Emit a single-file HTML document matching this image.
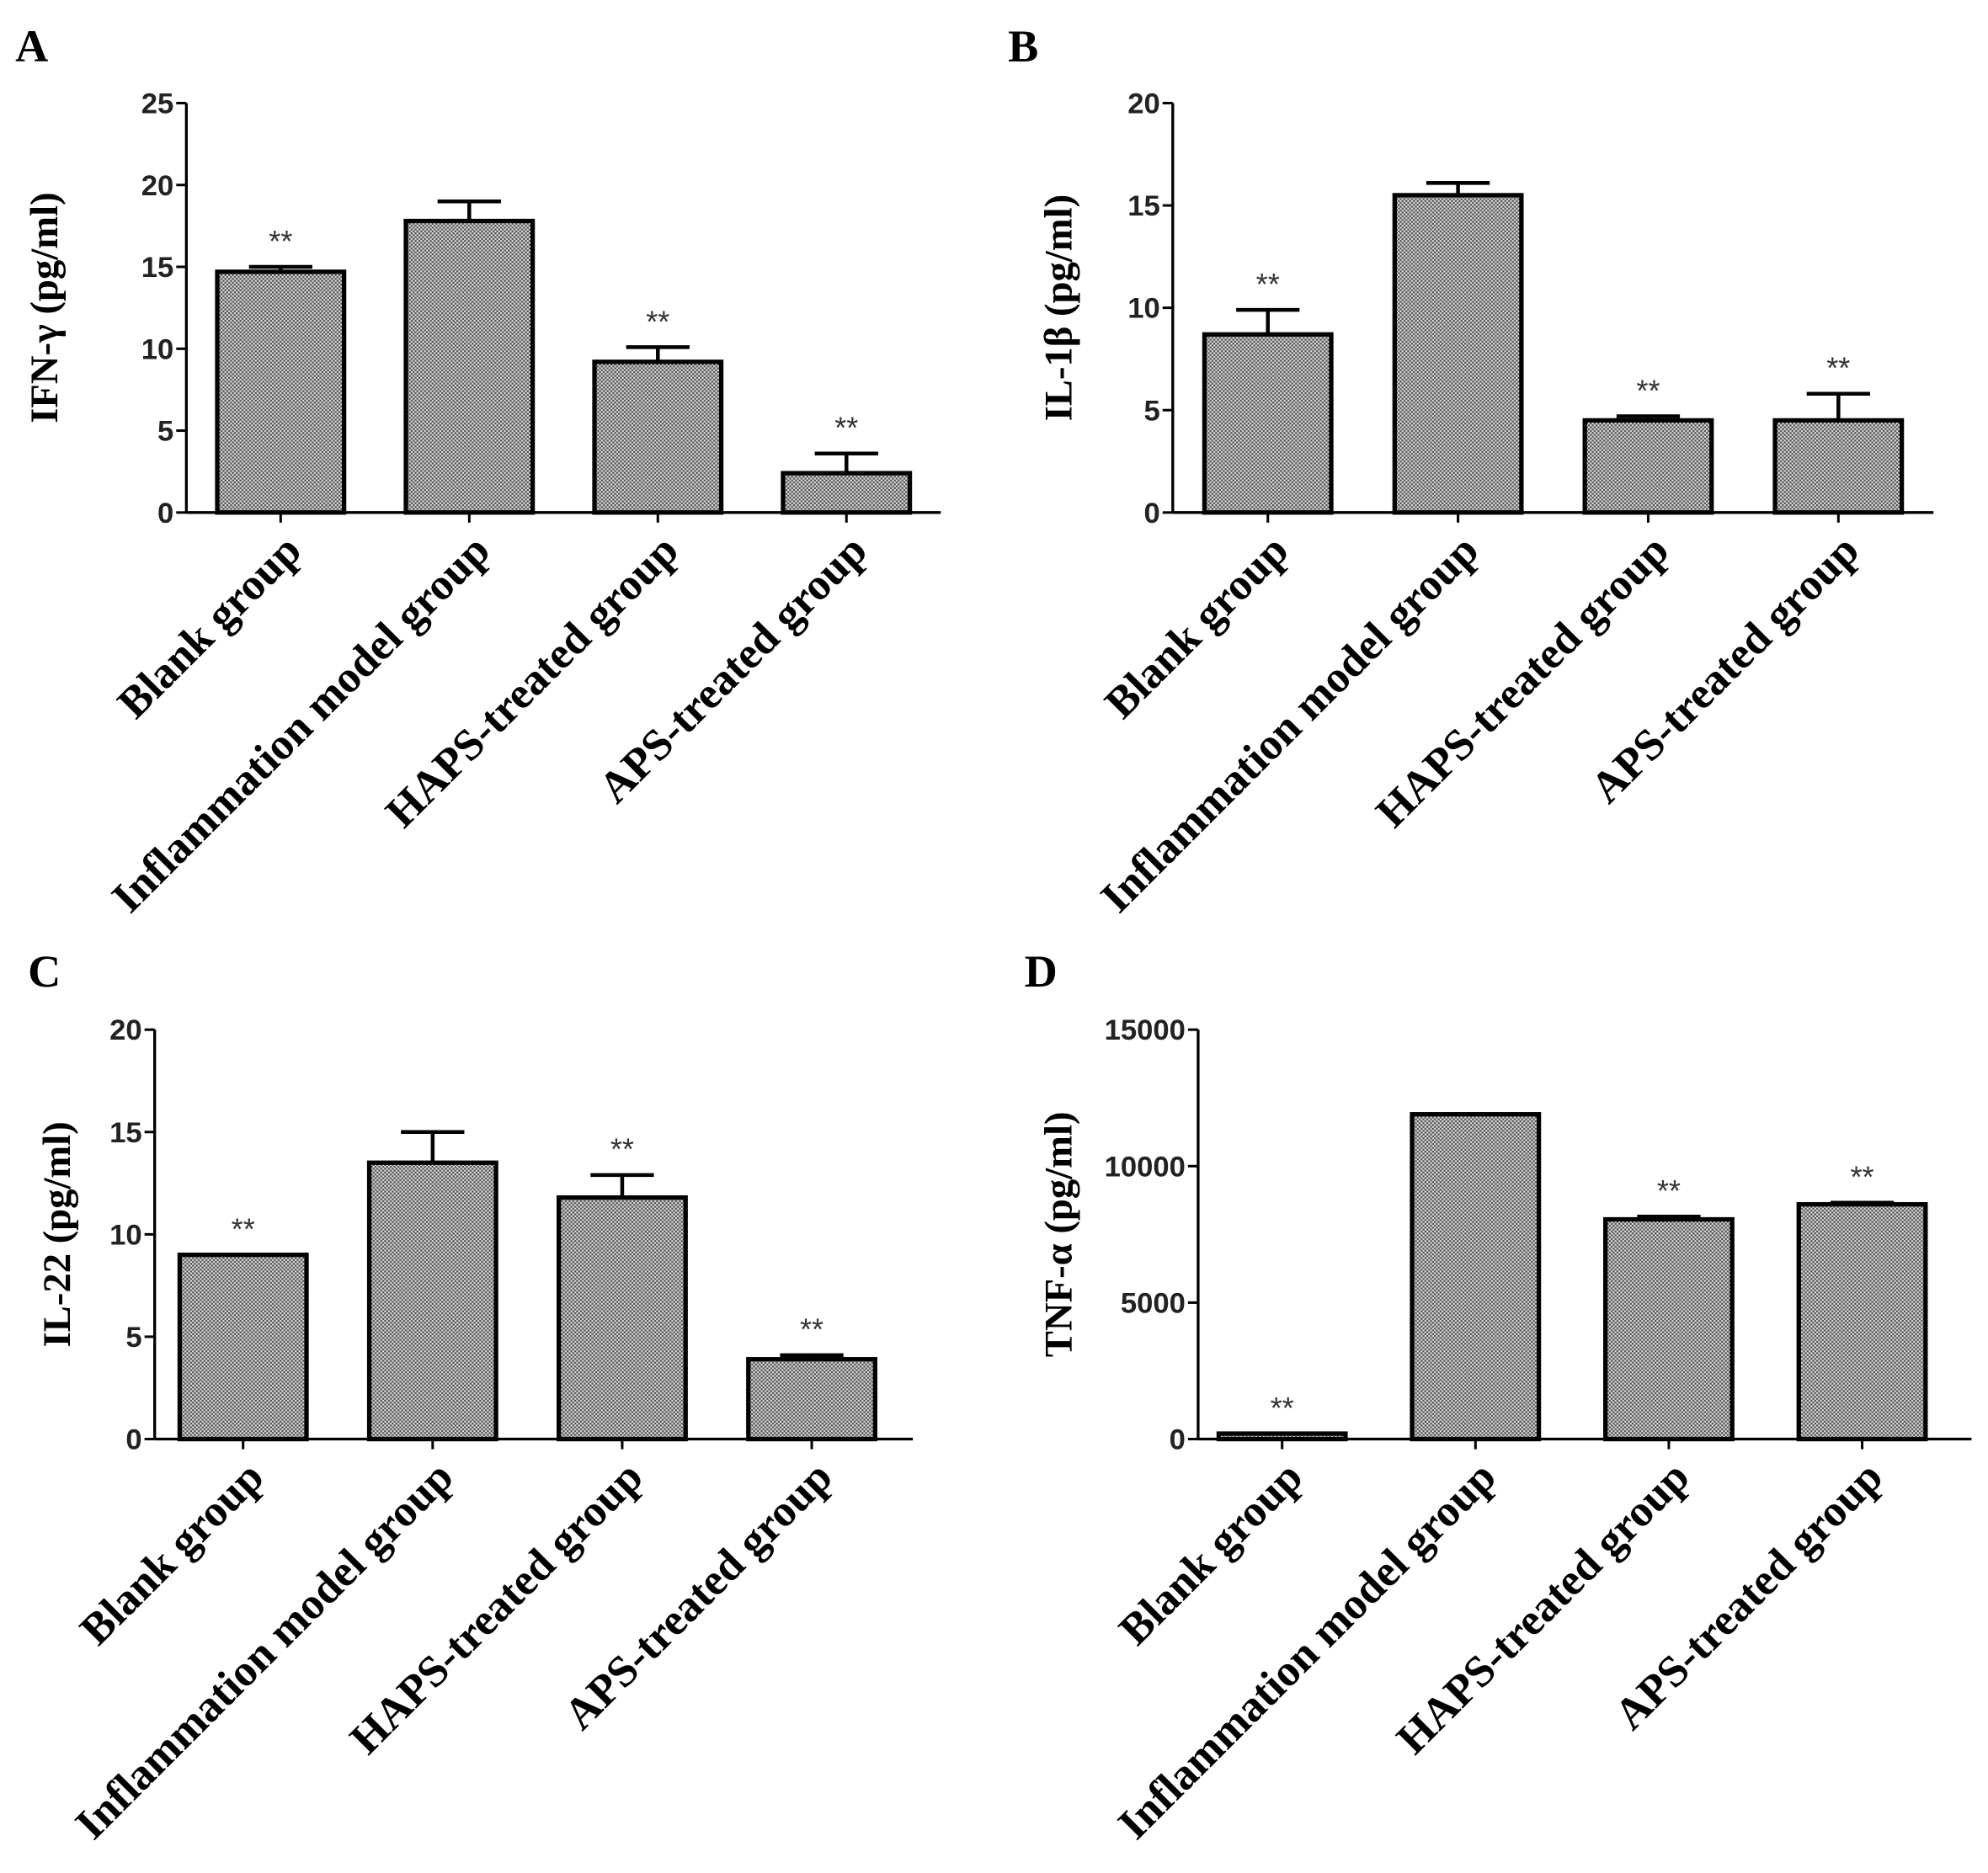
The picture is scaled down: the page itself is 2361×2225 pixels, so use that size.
<!DOCTYPE html>
<html><head><meta charset="utf-8"><style>
html,body{margin:0;padding:0;background:#fff}
svg{display:block}
</style></head><body>
<svg id="fig" xmlns="http://www.w3.org/2000/svg" width="2361" height="2225" viewBox="0 0 1568 1477">
<defs>
<pattern id="chk" width="3" height="3" patternUnits="userSpaceOnUse">
<rect width="3" height="3" fill="#d8d8d8"/>
<rect width="1.5" height="1.5" fill="#555"/>
<rect x="1.5" y="1.5" width="1.5" height="1.5" fill="#555"/>
</pattern>
</defs>
</svg>
<script>
const categories = ["Blank group","Inflammation model group","HAPS-treated group","APS-treated group"];
const valuesA = [14.7, 17.8, 9.2, 2.4];
const errA = [0.3, 1.2, 0.9, 1.2];
const sigA = [true, false, true, true];
const ticksA = [0,5,10,15,20,25];
const valuesB = [8.7, 15.5, 4.5, 4.5];
const errB = [1.2, 0.6, 0.2, 1.3];
const sigB = [true, false, true, true];
const ticksB = [0,5,10,15,20];
const valuesC = [9.0, 13.5, 11.8, 3.9];
const errC = [0, 1.5, 1.1, 0.2];
const sigC = [true, false, true, true];
const ticksC = [0,5,10,15,20];
const valuesD = [200, 11900, 8050, 8600];
const errD = [0, 0, 100, 60];
const sigD = [true, false, true, true];
const ticksD = [0,5000,10000,15000];

const NS = "http://www.w3.org/2000/svg";
const svg = document.getElementById('fig');
function mk(tag, attrs, parent, text){
  const e = document.createElementNS(NS, tag);
  for (const k in attrs) e.setAttribute(k, attrs[k]);
  if (text !== undefined) e.textContent = text;
  (parent||svg).appendChild(e);
  return e;
}
function panel(cfg){
  const g = mk('g', {});
  
  
  const L = mk('text', {x: cfg.lx, y: cfg.ly, 'font-family': 'Liberation Serif, serif', 'font-weight': 'bold', 'font-size': 36, fill: '#000'}, g, cfg.letter);
  
  
  const max = cfg.ticks[cfg.ticks.length-1];
  const y = v => cfg.y0 - (v/max)*(cfg.y0 - cfg.yTop);
  const ax = mk('line', {x1: cfg.ax, y1: cfg.yTop, x2: cfg.ax, y2: cfg.y0, stroke: '#000', 'stroke-width': 2.2}, g);
  
  
  const xa = mk('line', {x1: cfg.ax, y1: cfg.y0, x2: cfg.xEnd, y2: cfg.y0, stroke: '#000', 'stroke-width': 2.2}, g);
  
  
  cfg.ticks.forEach(t => {
    mk('line', {x1: cfg.ax - 8, y1: y(t), x2: cfg.ax, y2: y(t), stroke: '#000', 'stroke-width': 2}, g);
    const tl = mk('text', {x: cfg.ax - 10, y: y(t) + 8, 'text-anchor': 'end', 'font-family': 'Liberation Sans, sans-serif', 'font-weight': 'bold', 'font-size': 23, fill: '#222'}, g, t);
    
    
  });
  const yt = mk('text', {x: 0, y: 0, transform: `translate(${cfg.ytx},${(cfg.yTop+cfg.y0)/2}) rotate(-90)`, 'text-anchor': 'middle', 'font-family': 'Liberation Serif, serif', 'font-weight': 'bold', 'font-size': 31, fill: '#000'}, g, cfg.title);
  
  
  const step = (cfg.xEnd - cfg.ax) / 4;
  const bw = 100;
  cfg.vals.forEach((v, i) => {
    const cx = cfg.ax + step * (i + 0.5) + cfg.shift;
    mk('line', {x1: cx, y1: cfg.y0, x2: cx, y2: cfg.y0 + 8, stroke: '#000', 'stroke-width': 2}, g);
    if (cfg.err[i] > 0) {
      const e = mk('path', {d: `M${cx},${y(v)} V${y(v+cfg.err[i])} M${cx-25},${y(v+cfg.err[i])} H${cx+25}`, stroke: '#000', 'stroke-width': 3, fill: 'none'}, g);
      
      
    }
    const b = mk('rect', {x: cx - bw/2, y: y(v), width: bw, height: cfg.y0 - y(v), fill: 'url(#chk)', stroke: '#000', 'stroke-width': 3.5}, g);
    
    
    if (cfg.sig[i]) {
      const s = mk('text', {x: cx, y: y(v + cfg.err[i]) - 12, 'text-anchor': 'middle', 'font-family': 'Liberation Sans, sans-serif', 'font-size': 24, fill: '#333'}, g, '**');
      
      
    }
    const cl = mk('text', {x: 0, y: 0, transform: `translate(${cx + 18},${cfg.y0 + 32}) rotate(-45)`, 'text-anchor': 'end', 'font-family': 'Liberation Serif, serif', 'font-weight': 'bold', 'font-size': 35, fill: '#000'}, g, categories[i]);
    
    
  });
}
panel({letter:'A', lx:12, ly:48, ax:147, yTop:81, y0:404, xEnd:742, shift:0, ytx:45, title:'IFN-γ (pg/ml)', vals:valuesA, err:errA, sig:sigA, ticks:ticksA});
panel({letter:'B', lx:795, ly:48, ax:925, yTop:81, y0:404, xEnd:1525, shift:0, ytx:845, title:'IL-1β (pg/ml)', vals:valuesB, err:errB, sig:sigB, ticks:ticksB});
panel({letter:'C', lx:22, ly:778, ax:122, yTop:812, y0:1135, xEnd:720, shift:-5, ytx:55, title:'IL-22 (pg/ml)', vals:valuesC, err:errC, sig:sigC, ticks:ticksC});
panel({letter:'D', lx:808, ly:778, ax:945, yTop:812, y0:1135, xEnd:1555, shift:-10, ytx:845, title:'TNF-α (pg/ml)', vals:valuesD, err:errD, sig:sigD, ticks:ticksD});
</script>
</body></html>
